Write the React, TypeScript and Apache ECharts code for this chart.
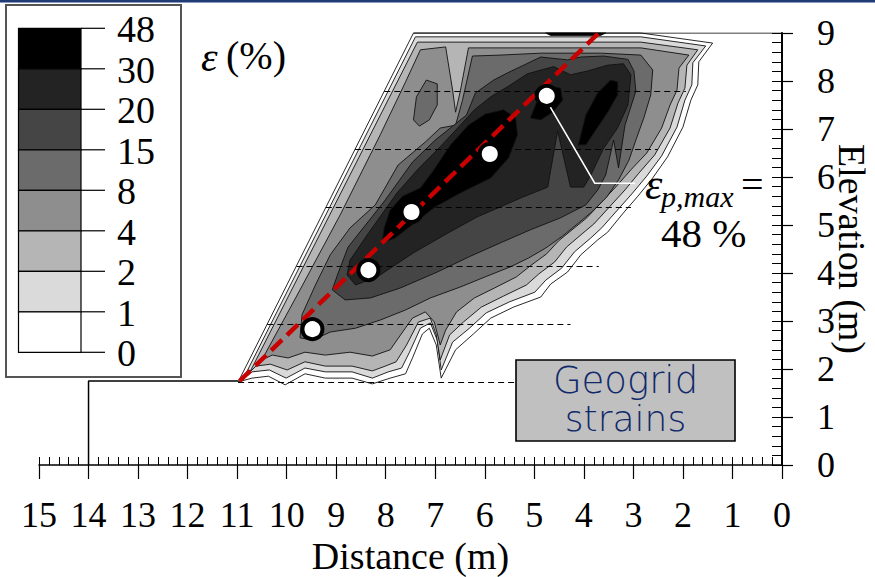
import React, { useEffect, useRef } from 'react';
import * as echarts from 'echarts';

// ---------- data ----------
const legendLevels = ['48', '30', '20', '15', '8', '4', '2', '1', '0'];
const bandColors = ['#000000', '#232323', '#454545', '#6b6b6b', '#8e8e8e', '#b5b5b5', '#dadada', '#ffffff'];

// contour polygons [distance (m), elevation (m)] – region where strain >= level
const contourOuter = [
  [10.98, 1.73], [7.44, 9.0], [2.85, 9.0], [1.4, 8.79], [1.68, 8.4], [1.7, 7.92], [1.84, 7.6], [2.0, 7.04],
  [2.31, 6.42], [2.61, 5.98], [2.91, 5.6], [3.22, 5.23], [3.52, 4.85], [3.72, 4.69], [4.06, 4.38], [4.33, 4.02],
  [4.67, 3.77], [4.87, 3.5], [5.42, 3.29], [5.88, 3.06], [6.23, 2.73], [6.59, 2.4], [6.88, 1.81], [6.98, 2.5],
  [7.12, 2.85], [7.26, 2.73], [7.46, 2.23], [7.6, 1.9], [7.91, 1.81], [8.27, 1.69], [8.68, 1.81], [9.22, 1.81],
  [9.63, 1.9], [10.03, 1.67], [10.37, 1.85], [10.7, 1.81],
];
const contourGE1 = [
  [10.88, 1.79], [7.4, 8.92], [2.85, 8.92], [1.54, 8.73], [1.8, 8.38], [1.82, 7.92], [1.96, 7.6], [2.12, 7.04],
  [2.43, 6.44], [2.73, 6.02], [3.03, 5.65], [3.34, 5.29], [3.64, 4.94], [3.86, 4.73], [4.19, 4.44], [4.45, 4.1],
  [4.77, 3.85], [4.99, 3.6], [5.5, 3.4], [5.97, 3.17], [6.31, 2.85], [6.65, 2.56], [6.88, 1.98], [6.96, 2.6],
  [7.1, 2.96], [7.3, 2.85], [7.52, 2.35], [7.68, 2.02], [7.95, 1.94], [8.27, 1.81], [8.68, 1.94], [9.22, 1.94],
  [9.63, 2.02], [10.01, 1.81], [10.35, 1.98], [10.7, 1.94],
];
const contourGE2 = [
  [10.74, 1.94], [7.36, 8.81], [2.85, 8.81], [1.7, 8.65], [1.92, 8.33], [1.96, 7.85], [2.1, 7.54], [2.26, 7.02],
  [2.57, 6.46], [2.89, 6.08], [3.17, 5.73], [3.48, 5.38], [3.8, 5.02], [4.02, 4.83], [4.35, 4.54], [4.59, 4.23],
  [4.91, 3.98], [5.16, 3.75], [5.62, 3.52], [6.07, 3.29], [6.43, 2.98], [6.71, 2.71], [6.9, 2.19], [6.98, 2.71],
  [7.1, 3.06], [7.34, 2.98], [7.58, 2.5], [7.79, 2.15], [8.01, 2.06], [8.27, 1.96], [8.68, 2.06], [9.22, 2.06],
  [9.63, 2.15], [9.99, 1.98], [10.33, 2.1], [10.62, 2.06],
];
const contourGE4 = [
  [10.5, 2.19], [9.73, 3.65], [8.92, 5.21], [8.11, 6.88], [7.6, 7.98], [7.3, 8.65], [6.79, 8.71], [6.65, 7.81],
  [6.59, 7.35], [6.49, 7.81], [6.33, 8.69], [2.85, 8.69], [1.88, 8.54], [2.08, 8.27], [2.12, 7.81], [2.26, 7.5],
  [2.43, 7.02], [2.73, 6.5], [3.05, 6.15], [3.34, 5.81], [3.64, 5.48], [3.94, 5.15], [4.19, 4.94], [4.51, 4.67],
  [4.75, 4.4], [5.08, 4.15], [5.36, 3.92], [5.8, 3.69], [6.21, 3.48], [6.57, 3.19], [6.79, 2.81], [6.9, 2.5],
  [7.02, 2.98], [7.2, 3.19], [7.46, 3.06], [7.7, 2.71], [7.91, 2.4], [8.27, 2.27], [8.72, 2.35], [9.22, 2.29],
  [9.63, 2.35], [9.97, 2.23], [10.29, 2.29],
];
const contourGE8 = [
  [9.73, 2.65], [9.69, 3.13], [9.42, 3.75], [9.12, 4.38], [8.72, 4.94], [8.21, 5.42], [7.75, 6.25], [7.2, 6.73],
  [6.9, 7.02], [6.59, 7.08], [6.45, 7.6], [6.25, 8.52], [5.68, 8.54], [4.87, 8.58], [3.66, 8.58], [2.85, 8.54],
  [2.61, 8.23], [2.65, 7.71], [2.79, 7.23], [2.95, 6.77], [3.09, 6.35], [3.3, 5.94], [3.54, 5.58], [3.82, 5.29],
  [4.11, 5.04], [4.43, 4.77], [4.77, 4.52], [5.12, 4.31], [5.48, 4.13], [5.99, 3.92], [6.49, 3.71], [7.1, 3.48],
  [7.6, 3.23], [8.11, 3.02], [8.61, 2.85], [9.12, 2.77], [9.48, 2.6],
];
const contourGE8Lobe = [
  [7.44, 7.19], [7.38, 7.67], [7.18, 8.02], [6.96, 7.94], [6.96, 7.5], [7.12, 7.19], [7.32, 7.06],
];
const contourGE15 = [
  [8.96, 4.0], [8.76, 4.54], [8.01, 5.52], [7.46, 6.31], [7.0, 6.77], [6.37, 7.29], [6.19, 7.75], [5.82, 8.02],
  [5.54, 8.17], [4.87, 8.5], [4.33, 8.44], [4.06, 8.5], [3.6, 8.52], [3.11, 8.45], [2.99, 8.21], [2.95, 7.79],
  [3.17, 7.08], [3.3, 6.19], [3.4, 6.77], [3.56, 6.04], [3.72, 5.73], [3.96, 5.42], [4.47, 5.15], [5.08, 4.9],
  [5.68, 4.63], [6.29, 4.35], [6.96, 4.02], [7.7, 3.69], [8.31, 3.48], [8.82, 3.44], [9.08, 3.65],
];
const contourGE20 = [
  [8.78, 3.96], [8.72, 4.27], [8.35, 4.83], [7.77, 5.67], [7.36, 6.15], [6.9, 6.63], [6.53, 7.04], [6.21, 7.4],
  [5.88, 7.67], [5.54, 7.88], [5.14, 8.15], [4.61, 8.3], [4.27, 8.13], [3.92, 8.21], [3.52, 8.33], [3.2, 8.36],
  [3.05, 8.13], [3.11, 7.5], [3.32, 7.02], [3.6, 6.6], [3.86, 6.04], [4.0, 5.79], [4.27, 5.79], [4.53, 6.96],
  [4.73, 5.79], [5.28, 5.56], [5.68, 5.38], [6.15, 5.17], [6.75, 4.83], [7.44, 4.42], [8.17, 3.92], [8.61, 3.75],
];
const contourGE30a = [
  [8.07, 4.63], [8.03, 4.94], [7.91, 5.31], [7.66, 5.6], [7.3, 5.77], [7.06, 6.1], [6.69, 6.67], [6.33, 7.08],
  [5.99, 7.31], [5.62, 7.4], [5.38, 7.23], [5.34, 6.88], [5.52, 6.4], [5.88, 5.98], [6.49, 5.67], [7.0, 5.38],
  [7.4, 5.06], [7.81, 4.73],
];
const contourGE30b = [
  [4.11, 6.67], [3.96, 7.29], [3.72, 7.75], [3.46, 8.02], [3.32, 7.98], [3.32, 7.71], [3.52, 7.35], [3.76, 6.98], [3.96, 6.67],
];
const contourGE30c = [
  [5.08, 7.23], [4.95, 7.56], [4.71, 7.9], [4.47, 7.85], [4.43, 7.6], [4.63, 7.35], [4.87, 7.19],
];
const contourGE30d = [[4.77, 9.0], [3.56, 9.0], [3.66, 8.95], [4.67, 8.95]];

const contourBands = [
  { pts: contourOuter, fill: bandColors[7] },
  { pts: contourGE1, fill: bandColors[6] },
  { pts: contourGE2, fill: bandColors[5] },
  { pts: contourGE4, fill: bandColors[4] },
  { pts: contourGE8, fill: bandColors[3] },
  { pts: contourGE8Lobe, fill: bandColors[3] },
  { pts: contourGE15, fill: bandColors[2] },
  { pts: contourGE20, fill: bandColors[1] },
  { pts: contourGE30a, fill: bandColors[0] },
  { pts: contourGE30b, fill: bandColors[0] },
  { pts: contourGE30c, fill: bandColors[0] },
  { pts: contourGE30d, fill: bandColors[0] },
];

const layerElevations = [1.73, 2.94, 4.15, 5.36, 6.57, 7.78];
const layerFaceDistances = [10.98, 10.39, 9.8, 9.21, 8.62, 8.03];
const layerEndDistances = [4.9, 4.27, 3.7, 3.05, 2.51, 1.94];

const groundProfile = [[14, 0], [14, 1.75], [10.98, 1.75]];
const crestSurface = [[7.44, 9], [0, 9]];
const failureSurface = [[10.95, 1.75], [3.7, 9.0]];
const maxStrainPoints = [[9.48, 2.83], [8.35, 4.06], [7.48, 5.27], [5.9, 6.48], [4.75, 7.69]];
const leaderLine = [[2.97, 5.87], [3.78, 5.87], [4.68, 7.46]];

// ---------- styling ----------
const SERIF = "'Liberation Serif', 'Times New Roman', Times, serif";
const legendTop = 28.3;
const legendStep = 40.5;

function buildGraphic() {
  const els: any[] = [];
  els.push({ type: 'rect', z: 100, shape: { x: 0, y: 0, width: 875, height: 2.5 }, style: { fill: '#1f3b78' } });
  els.push({ type: 'rect', z: 100, shape: { x: 6, y: 5, width: 175, height: 372 }, style: { fill: '#fff', stroke: '#555', lineWidth: 2 } });
  for (let i = 0; i < bandColors.length; i++) {
    els.push({
      type: 'rect', z: 101,
      shape: { x: 18.5, y: legendTop + i * legendStep, width: 62.5, height: legendStep },
      style: { fill: bandColors[i], stroke: '#000', lineWidth: 1.2 },
    });
  }
  legendLevels.forEach((lab, i) => {
    const y = legendTop + i * legendStep;
    els.push({ type: 'line', z: 101, shape: { x1: 81, y1: y, x2: 105, y2: y }, style: { stroke: '#000', lineWidth: 1.2 } });
    els.push({
      type: 'text', z: 101, x: 117, y: y + 1,
      style: { text: lab, fontSize: 38, fontFamily: SERIF, fill: '#000', verticalAlign: 'middle', align: 'left' },
    });
  });
  els.push({ type: 'text', z: 101, x: 201, y: 57, style: { text: 'ε', fontSize: 42, fontStyle: 'italic', fontFamily: SERIF, fill: '#000', verticalAlign: 'middle' } });
  els.push({ type: 'text', z: 101, x: 226, y: 55, style: { text: '(%)', fontSize: 40, fontFamily: SERIF, fill: '#000', verticalAlign: 'middle' } });
  els.push({ type: 'text', z: 101, x: 645, y: 184, style: { text: 'ε', fontSize: 44, fontStyle: 'italic', fontFamily: SERIF, fill: '#000', verticalAlign: 'middle' } });
  els.push({ type: 'text', z: 101, x: 661, y: 196, style: { text: 'p,max', fontSize: 30, fontStyle: 'italic', fontFamily: SERIF, fill: '#000', verticalAlign: 'middle' } });
  els.push({ type: 'text', z: 101, x: 741, y: 184, style: { text: '=', fontSize: 40, fontFamily: SERIF, fill: '#000', verticalAlign: 'middle' } });
  els.push({ type: 'text', z: 101, x: 661, y: 233, style: { text: '48 %', fontSize: 41, fontFamily: SERIF, fill: '#000', verticalAlign: 'middle' } });
  els.push({ type: 'rect', z: 102, shape: { x: 516, y: 360, width: 219, height: 81 }, style: { fill: '#c0c0c0', stroke: '#000', lineWidth: 1.6 } });
  els.push({ type: 'text', z: 103, x: 625.5, y: 380, style: { text: 'Geogrid', fontSize: 37, fontWeight: 200, fontFamily: "'DejaVu Sans'", fill: '#10296b', align: 'center', verticalAlign: 'middle' } });
  els.push({ type: 'text', z: 103, x: 625.5, y: 418, style: { text: 'strains', fontSize: 36, fontWeight: 200, fontFamily: "'DejaVu Sans'", fill: '#10296b', align: 'center', verticalAlign: 'middle' } });
  return els;
}

function buildOption(): any {
  const tickText = { fontSize: 36, fontFamily: SERIF, color: '#000' };
  const nameText = { fontSize: 38, fontFamily: SERIF, color: '#000' };
  return {
    animation: false,
    backgroundColor: '#ffffff',
    textStyle: { fontFamily: SERIF },
    grid: { left: 39, right: 93, top: 33, bottom: 112, containLabel: false, outerBoundsMode: 'none' },
    xAxis: [
      {
        type: 'value', min: 0, max: 15, interval: 1, inverse: true, position: 'bottom',
        axisLine: { show: true, onZero: false, lineStyle: { color: '#000', width: 1.5 } },
        axisTick: { show: true, inside: false, length: 14, lineStyle: { color: '#000', width: 1.2 } },
        axisLabel: { ...tickText, margin: 32 },
        splitLine: { show: false },
        name: 'Distance (m)', nameLocation: 'middle', nameGap: 72, nameMoveOverlap: false, nameTextStyle: nameText,
      },
      {
        type: 'value', min: 0, max: 15, interval: 0.2, inverse: true, position: 'bottom',
        axisLine: { show: false, onZero: false },
        axisTick: { show: true, inside: true, length: 8, lineStyle: { color: '#000', width: 1 } },
        axisLabel: { show: false }, splitLine: { show: false },
      },
    ],
    yAxis: [
      {
        type: 'value', min: 0, max: 9, interval: 1, position: 'right',
        axisLine: { show: true, onZero: false, lineStyle: { color: '#000', width: 2 } },
        axisTick: { show: true, inside: false, length: 11, lineStyle: { color: '#000', width: 1.2 } },
        axisLabel: { ...tickText, margin: 35 },
        splitLine: { show: false },
        name: 'Elevation (m)', nameLocation: 'middle', nameRotate: -90, nameGap: 51, nameMoveOverlap: false, nameTextStyle: nameText,
      },
      {
        type: 'value', min: 0, max: 9, interval: 0.2, position: 'right',
        axisLine: { show: false, onZero: false },
        axisTick: { show: true, inside: true, length: 10, lineStyle: { color: '#000', width: 1 } },
        axisLabel: { show: false }, splitLine: { show: false },
      },
    ],
    series: [
      {
        type: 'custom',
        name: 'contours',
        xAxisIndex: 0, yAxisIndex: 0,
        data: contourBands.map((b, i) => [b.pts[0][0], b.pts[0][1], i]),
        renderItem: (params: any, api: any) => {
          const band = contourBands[params.dataIndex];
          const points = band.pts.map((p) => api.coord(p));
          return {
            type: 'polygon',
            shape: { points },
            style: { fill: band.fill, stroke: '#111', lineWidth: 0.9 },
          };
        },
        silent: true,
        z: 1,
      },
      {
        type: 'lines',
        coordinateSystem: 'cartesian2d',
        xAxisIndex: 0, yAxisIndex: 0,
        data: layerElevations.map((e, i) => ({ coords: [[layerFaceDistances[i], e], [layerEndDistances[i], e]] })),
        lineStyle: { color: '#000', width: 1, type: [6, 4], opacity: 1 },
        silent: true,
        z: 2,
      },
      {
        type: 'line', data: groundProfile, symbol: 'none',
        lineStyle: { color: '#000', width: 1.5 }, silent: true, z: 3,
      },
      {
        type: 'line', data: crestSurface, symbol: 'none',
        lineStyle: { color: '#000', width: 1.2 }, silent: true, z: 3,
      },
      {
        type: 'line', data: failureSurface, symbol: 'none',
        lineStyle: { color: '#c80000', width: 4.5, type: [15, 7], cap: 'butt' }, silent: true, z: 4,
      },
      {
        type: 'lines',
        coordinateSystem: 'cartesian2d',
        polyline: true,
        data: [{ coords: leaderLine }],
        symbol: ['none', 'arrow'],
        symbolSize: 10,
        lineStyle: { color: '#ffffff', width: 1.6, opacity: 1 },
        silent: true,
        z: 5,
      },
      {
        type: 'scatter', data: maxStrainPoints, symbol: 'circle', symbolSize: 20,
        itemStyle: { color: '#ffffff', borderColor: '#000', borderWidth: 4, opacity: 1 },
        silent: true, z: 6,
      },
    ],
    graphic: { elements: buildGraphic() },
  };
}

export default function App() {
  const ref = useRef<HTMLDivElement>(null);
  useEffect(() => {
    if (!ref.current) return;
    const chart = echarts.init(ref.current, null, { renderer: 'svg' });
    chart.setOption(buildOption());
    return () => chart.dispose();
  }, []);
  return (
    <div
      ref={ref}
      style={{ position: 'fixed', left: 0, top: 0, width: 875, height: 577, background: '#fff' }}
    />
  );
}
